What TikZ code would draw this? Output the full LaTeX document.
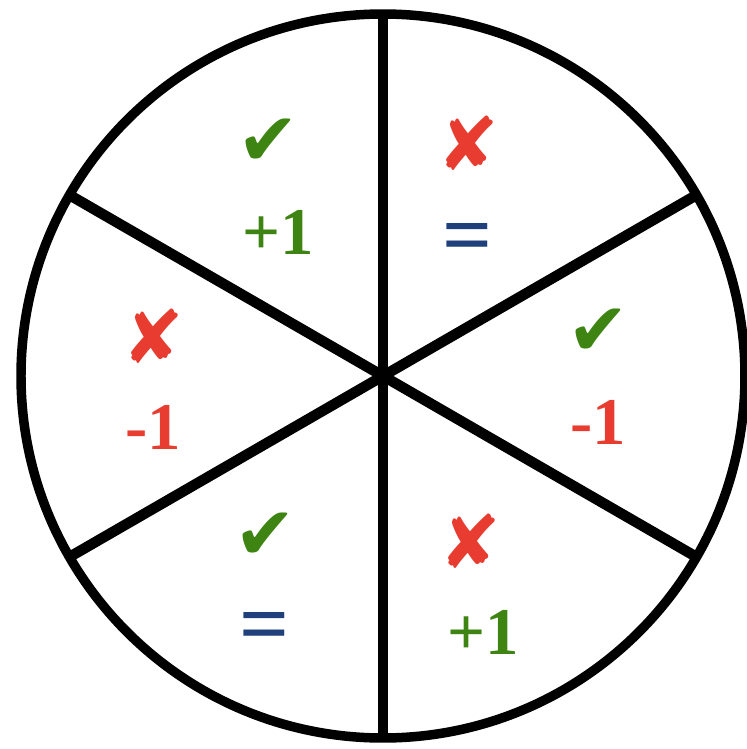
\documentclass[tikz,border=0pt]{standalone}
\usepackage{fontspec}
\setmainfont{Liberation Serif}
\newfontfamily\tickfont{DejaVu Sans}
\usetikzlibrary{positioning}

\definecolor{okgreen}{RGB}{62,132,18}
\definecolor{badred}{RGB}{232,60,48}
\definecolor{eqblue}{RGB}{32,64,124}

\begin{document}
\begin{tikzpicture}[
    rim/.style={circle,draw,line width=2.7pt,minimum size=7.24cm,inner sep=0pt,outer sep=0pt},
    spoke/.style={line width=3pt},
    yes/.style={font=\tickfont\fontsize{21}{21}\selectfont,text=okgreen},
    no/.style={font=\tickfont\fontsize{21}{21}\selectfont,text=badred},
    score/.style={font=\bfseries\fontsize{19}{19}\selectfont},
    same/.style={font=\bfseries\fontsize{25}{25}\selectfont,text=eqblue},
  ]
  \useasboundingbox (0,0) rectangle (7.47,7.49);
  \node[rim] (wheel) at (3.83,3.73) {};
  % three diameters through the hub
  \foreach \a in {90,150,210}
    \draw[spoke] (wheel.\a) -- (wheel.\the\numexpr\a+180\relax);

  % upper left
  \node[yes] (ul-mark) at (2.68,6.07) {✔};
  \node[score,text=okgreen,below=0.2cm of ul-mark,xshift=0.1cm] (ul-score) {+1};
  % upper right
  \node[no] (ur-mark) at (4.68,6.06) {✘};
  \node[same,below=0.28cm of ur-mark] (ur-score) {=};
  % right
  \node[yes] (r-mark) at (5.98,4.17) {✔};
  \node[score,text=badred,below=0.2cm of r-mark] (r-score) {-1};
  % lower right
  \node[no] (lr-mark) at (4.70,2.08) {✘};
  \node[score,text=okgreen,below=0.17cm of lr-mark,xshift=0.13cm] (lr-score) {+1};
  % lower left
  \node[yes] (ll-mark) at (2.65,2.13) {✔};
  \node[same,below=0.28cm of ll-mark] (ll-score) {=};
  % left
  \node[no] (l-mark) at (1.53,4.13) {✘};
  \node[score,text=badred,below=0.17cm of l-mark] (l-score) {-1};
\end{tikzpicture}
\end{document}
